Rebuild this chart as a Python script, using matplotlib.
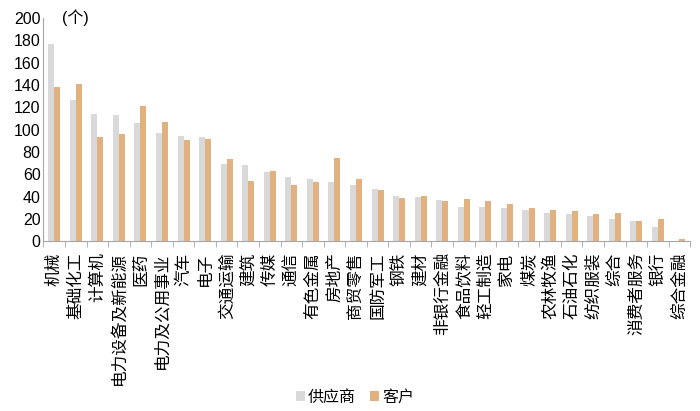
import numpy as np
import matplotlib
matplotlib.use("Agg")
import matplotlib.pyplot as plt

plt.rcParams['font.family'] = ['Liberation Sans', 'Noto Sans CJK SC', 'DejaVu Sans']

categories = ["机械", "基础化工", "计算机", "电力设备及新能源", "医药", "电力及公用事业",
              "汽车", "电子", "交通运输", "建筑", "传媒", "通信", "有色金属", "房地产",
              "商贸零售", "国防军工", "钢铁", "建材", "非银行金融", "食品饮料", "轻工制造",
              "家电", "煤炭", "农林牧渔", "石油石化", "纺织服装", "综合", "消费者服务",
              "银行", "综合金融"]
suppliers = [177, 127, 114, 113, 106, 97, 94, 93, 69, 68, 62, 58, 56, 53,
             50, 47, 41, 40, 37, 31, 31, 30, 28, 25, 24, 23, 20, 18, 13, 0]
customers = [138, 141, 93, 96, 121, 107, 91, 92, 74, 54, 63, 50, 53, 75,
             56, 46, 39, 41, 36, 38, 36, 33, 30, 28, 27, 24, 25, 18, 20, 2]

gray = "#D9D9D9"
orange = "#E2B180"
axis_col = "#A6A6A6"

fig = plt.figure(figsize=(7, 4.11), dpi=100)
ax = fig.add_axes([0.062, 0.413, 0.924, 0.543])

x = np.arange(len(categories))
w = 0.28
ax.bar(x - w / 2, suppliers, w, color=gray, label="供应商")
ax.bar(x + w / 2, customers, w, color=orange, label="客户")

ax.set_xlim(-0.5, len(categories) - 0.5)
ax.set_ylim(0, 200)
ax.set_yticks(range(0, 201, 20))
ax.tick_params(axis="y", length=0, labelsize=11.5, pad=2)

ax.set_xticks(x)
ax.set_xticklabels(categories, rotation=90, fontsize=12)
ax.tick_params(axis="x", length=0, pad=8)
ax.set_xticks(np.arange(-0.5, len(categories), 1), minor=True)
ax.tick_params(axis="x", which="minor", length=4, color=axis_col, direction="out")

for s in ["top", "right"]:
    ax.spines[s].set_visible(False)
ax.spines["left"].set_color(axis_col)
ax.spines["bottom"].set_color(axis_col)

ax.text(0.35, 200, "(个)", fontsize=11.5, va="center", ha="left")

fig.legend(loc="lower center", bbox_to_anchor=(0.507, -0.02), ncol=2, frameon=False,
           fontsize=11.5, handlelength=0.55, handleheight=0.55, handletextpad=0.2,
           columnspacing=0.9)

fig.savefig("out.png", dpi=100)
